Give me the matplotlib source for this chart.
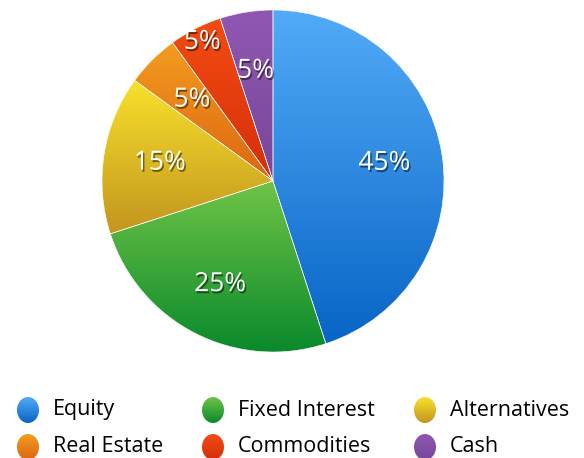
import numpy as np
import matplotlib
matplotlib.use("Agg")
import matplotlib.pyplot as plt
import matplotlib.patheffects as pe
from matplotlib.colors import LinearSegmentedColormap
from matplotlib.patches import Ellipse

plt.rcParams['font.family'] = ['Open Sans', 'DejaVu Sans']

categories = ['Equity', 'Fixed Interest', 'Alternatives', 'Real Estate', 'Commodities', 'Cash']
values = [45, 25, 15, 5, 5, 5]
# gradient colours (top, bottom) per slice
tops = ['#52abf7', '#6fc446', '#f7e12b', '#f39c1f', '#f24c12', '#9057b2']
bottoms = ['#0864c6', '#0a892c', '#c3951f', '#dc6612', '#d62e0b', '#77479b']
# label distance from centre, as fraction of radius
label_r = [0.66, 0.68, 0.67, 0.67, 0.91, 0.65]

W, H = 584, 458
fig = plt.figure(figsize=(W / 100, H / 100), dpi=100)
ax = fig.add_axes([0, 0, 1, 1])
ax.set_xlim(0, W)
ax.set_ylim(0, H)
ax.axis('off')

cx, cy, R = 273, H - 181, 171


def gradient_fill(ax, patch, top, bottom):
    x0, y0, x1, y1 = patch.get_path().transformed(patch.get_patch_transform()).get_extents().extents
    cmap = LinearSegmentedColormap.from_list('g', [bottom, top])
    grad = np.linspace(0, 1, 256).reshape(-1, 1)
    im = ax.imshow(grad, cmap=cmap, origin='lower', aspect='auto',
                   extent=[x0, x1, y0, y1], zorder=patch.get_zorder())
    im.set_clip_path(patch)


wedges, _ = ax.pie(values, center=(cx, cy), radius=R, startangle=90, counterclock=False,
                   wedgeprops=dict(edgecolor='white', linewidth=0.4))
ax.set_xlim(0, W)
ax.set_ylim(0, H)
ax.set_aspect('equal')

shadow = [pe.SimplePatchShadow(offset=(1, -1.5), shadow_rgbFace='black', alpha=0.5), pe.Normal()]
for w, t, b, v, lr in zip(wedges, tops, bottoms, values, label_r):
    gradient_fill(ax, w, t, b)
    w.set_facecolor('none')
    w.set_zorder(3)
    mid = np.deg2rad((w.theta1 + w.theta2) / 2)
    ax.text(cx + lr * R * np.cos(mid), cy + lr * R * np.sin(mid), f'{v}%',
            ha='center', va='center', color='white', fontsize=19, zorder=5,
            path_effects=shadow)

# legend
col_x = [28, 213, 425]
row_y = [H - 410, H - 447]
for i, (name, t, b) in enumerate(zip(categories, tops, bottoms)):
    x = col_x[i % 3]
    y = row_y[i // 3]
    e = Ellipse((x, y), 22, 26, facecolor='none', edgecolor='none', zorder=3)
    ax.add_patch(e)
    gradient_fill(ax, e, t, b)
    ax.text(x + 25, y, name, ha='left', va='center', fontsize=15.5, color='black')

fig.savefig('out.png', dpi=100)
